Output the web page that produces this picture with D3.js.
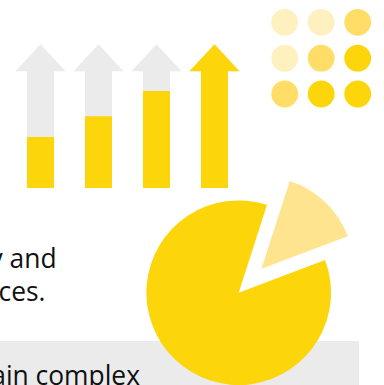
<!DOCTYPE html>
<html>
<head>
<meta charset="utf-8">
<script src="https://cdn.jsdelivr.net/npm/d3@7/dist/d3.min.js"></script>
<style>
html,body{margin:0;padding:0;background:#fff;overflow:hidden}
svg{display:block}
text{font-family:"Open Sans",sans-serif;fill:#111;font-size:26.4px}
</style>
</head>
<body>
<svg id="chart" width="384" height="385"></svg>
<script>
// Progress arrows
const arrowNames = ["a", "b", "c", "d"];
const arrowValues = [35.5, 50, 67.5, 100];
// Dot matrix shades, by row
const dotRows = [0, 1, 2];
const dotCols = [0, 1, 2];
const dotLevels = [
  [0, 0, 1],
  [0, 1, 2],
  [1, 2, 2]
];
const dotPalette = ["#FFF0BF", "#FFDD66", "#FCD60A"];
// Pie shares
const pieShares = [6, 1];
const pieColors = ["#FCD50B", "#FFE490"];
// Copy lines, right aligned on the panel text edge
const copyLines = ["y and", "ces."];
const copyBand = "ain complex";

const svg = d3.select("#chart");

// Grey band behind the lower copy
svg.append("rect").attr("x", 0).attr("y", 341).attr("width", 359).attr("height", 44).attr("fill", "#EBEBEB");

// Arrows
const y = d3.scaleLinear().domain([0, 100]).range([188, 44.3]);
const arrowCx = d3.scalePoint().domain(arrowNames).range([40.5, 214.5]);
const bodyW = 27, headW = 50, headBase = y(100) + 27;
const clipDefs = svg.append("defs");
const arrowPath = cx => {
  const p = d3.path();
  p.moveTo(cx - bodyW / 2, y(0));
  p.lineTo(cx - bodyW / 2, headBase);
  p.lineTo(cx - headW / 2, headBase);
  p.lineTo(cx, y(100));
  p.lineTo(cx + headW / 2, headBase);
  p.lineTo(cx + bodyW / 2, headBase);
  p.lineTo(cx + bodyW / 2, y(0));
  p.closePath();
  return p.toString();
};
arrowNames.forEach((n, i) => {
  const cx = arrowCx(n), v = arrowValues[i];
  clipDefs.append("clipPath").attr("id", "fill-" + n)
    .append("rect").attr("x", 0).attr("width", 384).attr("y", y(v)).attr("height", y(0) - y(v));
  svg.append("path").attr("d", arrowPath(cx)).attr("fill", "#EBEBEB");
  svg.append("path").attr("d", arrowPath(cx)).attr("fill", "#FCD50B").attr("clip-path", `url(#fill-${n})`);
});

// Dot matrix
const dx = d3.scalePoint().domain(dotCols).range([284.7, 357.7]);
const dy = d3.scalePoint().domain(dotRows).range([22.3, 94]);
dotRows.forEach(r => dotCols.forEach(c => {
  svg.append("circle").attr("cx", dx(c)).attr("cy", dy(r)).attr("r", 13.4)
    .attr("fill", dotPalette[dotLevels[r][c]]);
}));

// Pie with the small share pulled out
const pieCx = 238.7, pieCy = 292.7, pieR = 92.3, pull = 33;
const pieGen = d3.pie().sort(null).startAngle(69.3 * Math.PI / 180).endAngle((69.3 + 360) * Math.PI / 180);
const arcGen = d3.arc().innerRadius(0).outerRadius(pieR);
pieGen(pieShares).forEach((d, i) => {
  const mid = (d.startAngle + d.endAngle) / 2;
  const off = i === 1 ? pull : 0;
  svg.append("path").attr("d", arcGen(d)).attr("fill", pieColors[i])
    .attr("transform", `translate(${pieCx + off * Math.sin(mid)},${pieCy - off * Math.cos(mid)})`);
});

// Copy
const anchorX = [56.6, 45.5];
const baseY = [268, 301];
copyLines.forEach((t, i) => {
  svg.append("text").attr("x", anchorX[i]).attr("y", baseY[i]).attr("text-anchor", "end").text(t);
});
svg.append("text").attr("x", 140).attr("y", 385.3).attr("text-anchor", "end").text(copyBand);
</script>
</body>
</html>
